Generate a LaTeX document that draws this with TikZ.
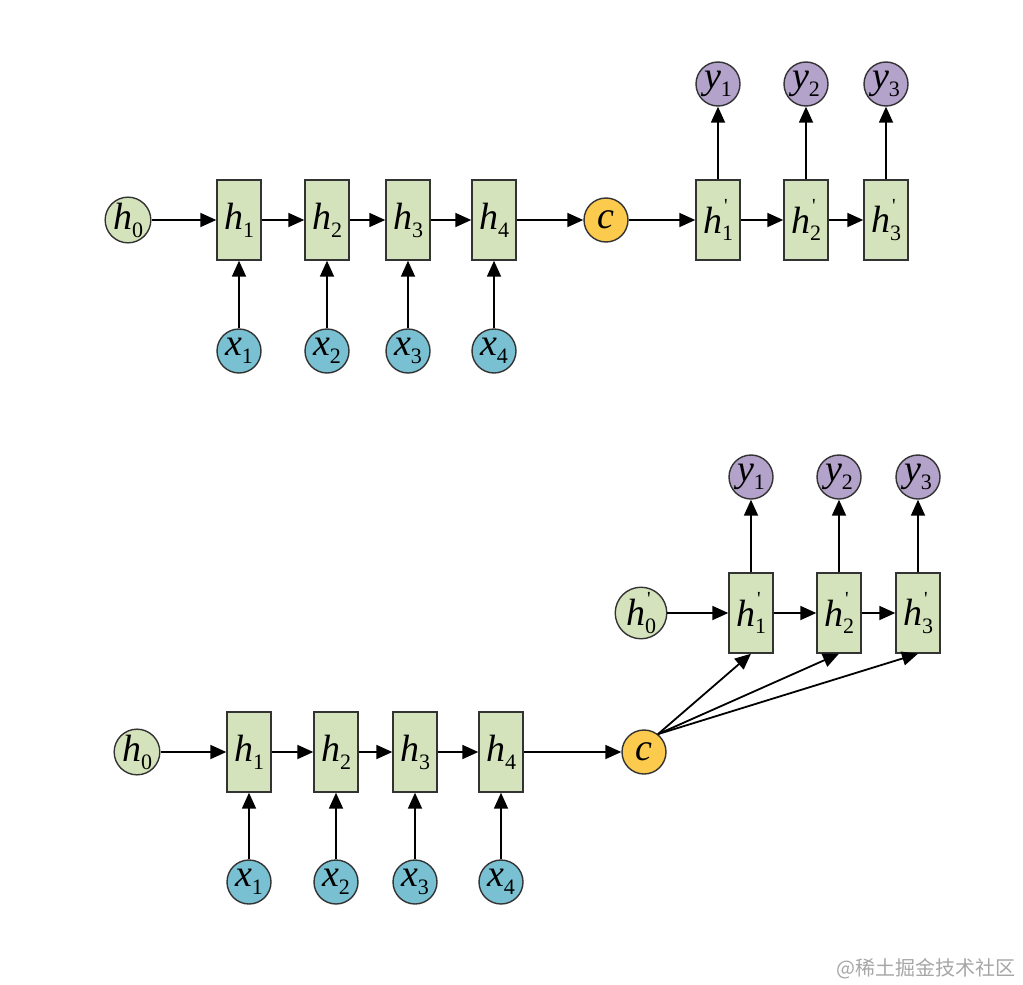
\documentclass[tikz,border=0pt]{standalone}
\usepackage{fontspec}
\setmainfont{Liberation Serif}
\newfontfamily\cjk{Noto Sans CJK SC}
\usetikzlibrary{arrows.meta}
\definecolor{cellGreen}{HTML}{D5E3BC}
\definecolor{inputBlue}{HTML}{79C1D2}
\definecolor{ctxYellow}{HTML}{FCCB4E}
\definecolor{outPurple}{HTML}{B3A2C9}
\newcommand{\var}[2]{\textit{#1}\raisebox{-0.45ex}{\fontsize{11}{11}\selectfont #2}}
\newcommand{\varp}[2]{\textit{#1}\rlap{\raisebox{1.2ex}{\fontsize{10}{10}\selectfont\kern0.1em\textquotesingle}}\raisebox{-0.45ex}{\fontsize{11}{11}\selectfont #2}}

\begin{document}
\begin{tikzpicture}[x=0.5pt, y=-0.5pt, line width=0.9pt,
    every node/.style={font=\fontsize{19}{19}\selectfont, inner sep=0pt},
    cell/.style={draw=black!80, line width=0.7pt, fill=cellGreen, minimum width=22pt, minimum height=40pt},
    hstate/.style={circle, draw=black!80, line width=0.7pt, fill=cellGreen, minimum size=22pt},
    xin/.style={hstate, fill=inputBlue},
    cnode/.style={hstate, fill=ctxYellow},
    yout/.style={hstate, fill=outPurple},
    link/.style={-{Triangle[length=8pt,width=7pt]}}]
    \useasboundingbox (0,0) rectangle (1023,985);
    % encoder-decoder, c feeds the first decoder cell
    \node[hstate] (a0) at (128,220) {\var{h}{0}};
    \foreach \i/\x in {1/239,2/327,3/408,4/494}{
        \node[cell] (a\i) at (\x,220) {\var{h}{\i}};
        \node[xin] (ax\i) at (\x,351) {\var{x}{\i}};
        \draw[link] (ax\i) -- (a\i);
    }
    \node[cnode] (ac) at (606,220) {\textit{c}};
    \foreach \i/\x in {1/718,2/806,3/886}{
        \node[cell] (ad\i) at (\x,220) {\varp{h}{\i}};
        \node[yout] (ay\i) at (\x,84) {\var{y}{\i}};
        \draw[link] (ad\i) -- (ay\i);
    }
    \draw[link] (a0) -- (a1);
    \draw[link] (a1) -- (a2);
    \draw[link] (a2) -- (a3);
    \draw[link] (a3) -- (a4);
    \draw[link] (a4) -- (ac);
    \draw[link] (ac) -- (ad1);
    \draw[link] (ad1) -- (ad2);
    \draw[link] (ad2) -- (ad3);

    % encoder-decoder, c feeds every decoder cell
    \node[hstate] (b0) at (137,752) {\var{h}{0}};
    \foreach \i/\x in {1/249,2/336,3/415,4/501}{
        \node[cell] (b\i) at (\x,752) {\var{h}{\i}};
        \node[xin] (bx\i) at (\x,882) {\var{x}{\i}};
        \draw[link] (bx\i) -- (b\i);
    }
    \node[cnode] (bc) at (644,752) {\textit{c}};
    \node[hstate] (bd0) at (641,613) {\varp{h}{0}};
    \foreach \i/\x in {1/751,2/839,3/918}{
        \node[cell] (bd\i) at (\x,613) {\varp{h}{\i}};
        \node[yout] (by\i) at (\x,477) {\var{y}{\i}};
        \draw[link] (bd\i) -- (by\i);
        \draw[link] (bc.52) -- (bd\i.south);
    }
    \draw[link] (b0) -- (b1);
    \draw[link] (b1) -- (b2);
    \draw[link] (b2) -- (b3);
    \draw[link] (b3) -- (b4);
    \draw[link] (b4) -- (bc);
    \draw[link] (bd0) -- (bd1);
    \draw[link] (bd1) -- (bd2);
    \draw[link] (bd2) -- (bd3);

    \node[text=black!35, font=\cjk\fontsize{10}{10}\selectfont, anchor=east] (mark) at (1016,969) {@稀土掘金技术社区};
\end{tikzpicture}
\end{document}
